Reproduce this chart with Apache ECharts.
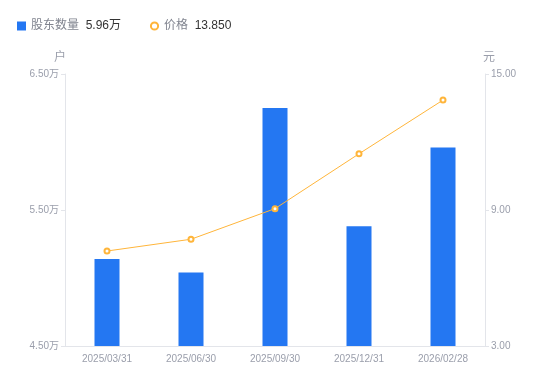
<!DOCTYPE html>
<html><head><meta charset="utf-8">
<script src="https://cdn.jsdelivr.net/npm/echarts@6/dist/echarts.min.js"></script>
<style>html,body{margin:0;padding:0;background:#fff}#c{width:550px;height:381px}</style>
</head><body><div id="c"></div>
<script>
const categories = ['2025/03/31','2025/06/30','2025/09/30','2025/12/31','2026/02/28'];
const holders = [5.14, 5.04, 6.25, 5.38, 5.96]; // 万户
const prices = [7.19, 7.71, 9.06, 11.48, 13.85];
const leftTicks = [4.5, 5.5, 6.5];
const rightTicks = [3, 9, 15];
const legendValues = {'股东数量': '5.96万', '价格': '13.850'};

const chart = echarts.init(document.getElementById('c'), null, {renderer: 'canvas'});
const labelColor = '#9a9eab';
const lineColor = '#e3e5ea';
chart.setOption({
  animation: false,
  textStyle: {fontFamily: '"Liberation Sans", Arial, "Noto Sans CJK SC", sans-serif'},
  legend: {
    left: 12, top: 15,
    itemWidth: 9, itemHeight: 9, itemGap: 28,
    data: [{name: '股东数量', icon: 'rect'}, {name: '价格'}],
    formatter: n => n + '  {v|' + legendValues[n] + '}',
    textStyle: {color: '#80848f', fontSize: 12, rich: {v: {color: '#333', fontSize: 12}}}
  },
  grid: {left: 65, right: 65, top: 74, bottom: 35},
  xAxis: {
    type: 'category', data: categories,
    axisLine: {lineStyle: {color: lineColor}},
    axisTick: {show: false},
    axisLabel: {color: labelColor, fontSize: 10, margin: 8}
  },
  yAxis: [{
    type: 'value', min: 4.5, max: 6.5, name: '户',
    nameTextStyle: {color: labelColor, fontSize: 12, padding: [0, 10, 0, 0]},
    nameGap: 10,
    axisLine: {show: true, lineStyle: {color: lineColor}},
    axisTick: {show: true, length: 4, lineStyle: {color: lineColor}, customValues: leftTicks},
    axisLabel: {color: labelColor, fontSize: 10, margin: 6, customValues: leftTicks, formatter: v => v.toFixed(2) + '万'},
    splitLine: {show: false}
  }, {
    type: 'value', min: 3, max: 15, name: '元',
    nameTextStyle: {color: labelColor, fontSize: 12, padding: [0, 0, 0, 8]},
    nameGap: 10,
    axisLine: {show: true, lineStyle: {color: lineColor}},
    axisTick: {show: true, length: 4, lineStyle: {color: lineColor}, customValues: rightTicks},
    axisLabel: {color: labelColor, fontSize: 10, margin: 6, customValues: rightTicks, formatter: v => v.toFixed(2)},
    splitLine: {show: false}
  }],
  series: [{
    name: '股东数量', type: 'bar', data: holders, barWidth: 25,
    itemStyle: {color: '#2477f2'}
  }, {
    name: '价格', type: 'line', yAxisIndex: 1, data: prices,
    symbol: 'emptyCircle', symbolSize: 5,
    lineStyle: {color: '#ffb53a', width: 1},
    itemStyle: {color: '#ffb53a', borderWidth: 1.5}
  }]
});
</script></body></html>
